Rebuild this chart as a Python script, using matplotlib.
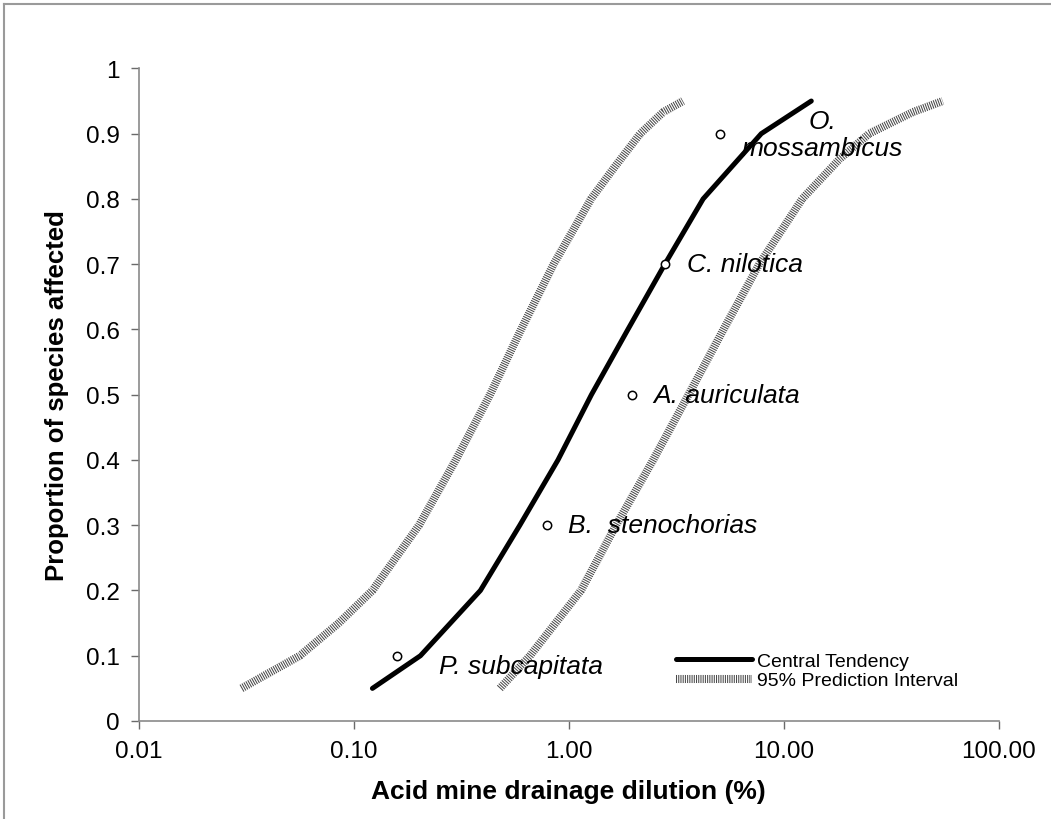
import numpy as np
import matplotlib
matplotlib.use("Agg")
import matplotlib.pyplot as plt
from matplotlib.lines import Line2D

plt.rcParams['font.family'] = ['Liberation Sans', 'DejaVu Sans']
plt.rcParams['lines.scale_dashes'] = False

# central tendency curve
central_y = [0.05, 0.1, 0.2, 0.3, 0.4, 0.5, 0.6, 0.7, 0.8, 0.9, 0.95]
central_x = [0.122, 0.204, 0.388, 0.592, 0.891, 1.275, 1.885, 2.80, 4.22, 7.87, 13.45]

# 95% prediction interval, lower and upper bounds
lower_y = [0.05, 0.069, 0.1, 0.15, 0.2, 0.3, 0.4, 0.5, 0.6, 0.7, 0.8, 0.846, 0.9, 0.933, 0.95]
lower_x = [0.030, 0.038, 0.056, 0.085, 0.122, 0.201, 0.298, 0.43, 0.60, 0.85, 1.27, 1.61, 2.15, 2.75, 3.4]
upper_y = [0.05, 0.1, 0.2, 0.3, 0.4, 0.5, 0.6, 0.7, 0.8, 0.861, 0.9, 0.933, 0.95]
upper_x = [0.478, 0.66, 1.14, 1.66, 2.47, 3.61, 5.25, 7.7, 12.2, 18.2, 25.0, 39.9, 55.0]

# observed species points
species = ["P. subcapitata", "B.  stenochorias", "A. auriculata", "C. nilotica", "O.\nmossambicus"]
species_x = [0.158, 0.793, 1.97, 2.80, 5.08]
species_y = [0.1, 0.3, 0.5, 0.7, 0.9]
label_off = [(42, -10), (21, 0), (21, 0), (22, 0), (102, -1)]

W, H = 1051, 820
fig = plt.figure(figsize=(W / 100, H / 100), dpi=100)
ax = fig.add_axes([139 / W, 1 - 722 / H, (998.5 - 139) / W, (722 - 69.4) / H])

pi_style = dict(color='#4a4a4a', lw=5.8, linestyle=(0, (0.75, 0.85)), solid_capstyle='butt')
ax.plot(lower_x, lower_y, label='95% Prediction Interval', **pi_style)
ax.plot(upper_x, upper_y, **pi_style)
ax.plot(central_x, central_y, color='black', lw=3.6, solid_capstyle='round',
        solid_joinstyle='miter', label='Central Tendency')
ax.plot(species_x, species_y, 'o', ms=6, mfc='white', mec='black', mew=1.1, zorder=5)

for name, x, y, (dx, dy) in zip(species, species_x, species_y, label_off):
    ha = 'center' if '\n' in name else 'left'
    ax.annotate(name, (x, y), xytext=(dx, dy), textcoords='offset pixels',
                ha=ha, va='center', style='italic', fontsize=19, linespacing=1.15)

ax.set_xscale('log')
ax.set_xlim(0.01, 100)
ax.set_ylim(0, 1)
ax.set_xticks([0.01, 0.1, 1, 10, 100])
ax.set_xticklabels(['0.01', '0.10', '1.00', '10.00', '100.00'])
ax.xaxis.set_minor_locator(matplotlib.ticker.NullLocator())
ax.set_yticks(np.arange(0, 1.01, 0.1))
ax.set_yticklabels(['0'] + ['%.1f' % v for v in np.arange(0.1, 0.95, 0.1)] + ['1'])

for s in ['top', 'right']:
    ax.spines[s].set_visible(False)
for s in ['left', 'bottom']:
    ax.spines[s].set_color('#8a8a8a')
    ax.spines[s].set_linewidth(1.2)
ax.tick_params(direction='out', length=6, width=1, color='#6a6a6a', labelsize=17.5, pad=8)

ax.set_xlabel('Acid mine drainage dilution (%)', fontsize=19, fontweight='bold', labelpad=12)
ax.set_ylabel('Proportion of species affected', fontsize=18.5, fontweight='bold', labelpad=12)

handles, labels = ax.get_legend_handles_labels()
ax.legend(handles[::-1], labels[::-1], loc='center left', frameon=False,
          bbox_to_anchor=(676 / W, 1 - 672 / H), bbox_transform=fig.transFigure,
          fontsize=14, handlelength=3.9, handletextpad=0.25, labelspacing=0.08,
          borderpad=0, borderaxespad=0)

# outer frame of the original picture
fig.add_artist(Line2D([4 / W, 4 / W], [0, 1 - 5 / H], color='#9a9a9a', lw=1.5))
fig.add_artist(Line2D([4 / W, 1], [1 - 5 / H, 1 - 5 / H], color='#9a9a9a', lw=1.5))

fig.savefig('out.png', dpi=100)
